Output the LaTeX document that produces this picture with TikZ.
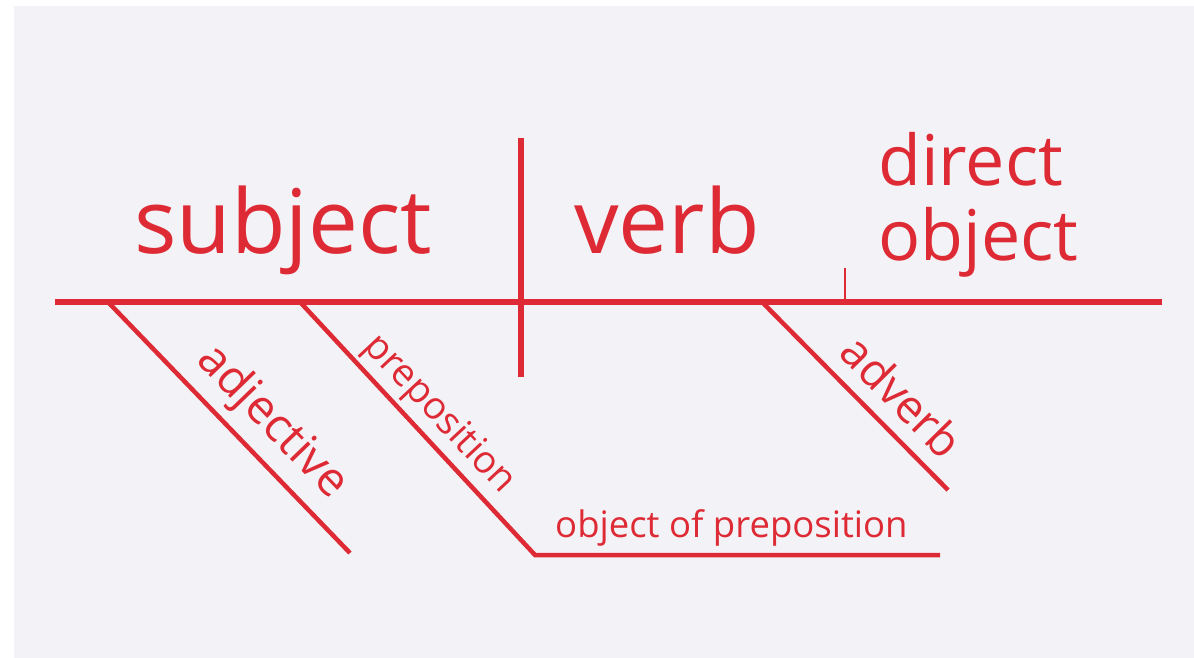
\documentclass[tikz,border=0pt]{standalone}
\usepackage{fontspec}
\setmainfont{Open Sans}
\definecolor{ink}{RGB}{222,42,52}
\definecolor{paper}{RGB}{243,243,247}
\tikzset{
  baseline rule/.style={draw=ink, line width=6.5pt},
  divider/.style={draw=ink, line width=5.5pt},
  modifier/.style={draw=ink, line width=4.5pt},
  tickmark/.style={draw=ink, line width=2.6pt},
  word/.style={text=ink, inner sep=0pt, anchor=base west},
  bigword/.style={word, font=\fontsize{89}{90}\selectfont},
  midword/.style={word, font=\fontsize{70}{72}\selectfont},
  slantword/.style={text=ink, inner sep=0pt, anchor=base}
}
\begin{document}
\begin{tikzpicture}[x=1pt,y=-1pt]
  % canvas
  \fill[white] (0,0) rectangle (1194,658);
  \fill[paper] (14,6) rectangle (1194,658);
  \useasboundingbox (0,0) rectangle (1194,658);

  % main line and its junctions
  \coordinate (mainL) at (55,302);
  \coordinate (mainR) at (1162,302);
  \coordinate (divT) at (521,138);
  \coordinate (divB) at (521,377);
  \coordinate (tickT) at (845,268);
  \coordinate (tickB) at (845,302);

  % modifier lines
  \coordinate (adjT) at (108,302);
  \coordinate (adjB) at (350,553);
  \coordinate (prepT) at (300,302);
  \coordinate (prepB) at (535,555);
  \coordinate (objR) at (940,555);
  \coordinate (advT) at (762,302);
  \coordinate (advB) at (948,490);

  \path[baseline rule] (mainL) -- (mainR);
  \path[divider] (divT) -- (divB);
  \path[tickmark] (tickT) -- (tickB);
  \path[modifier] (adjT) -- (adjB);
  \path[modifier, line join=miter] (prepT) -- (prepB) -- (objR);
  \path[modifier] (advT) -- (advB);

  % words on the main line
  \node[bigword] (subj) at (134,253) {subject};
  \node[bigword] (verb) at (574,253) {verb};
  \node[midword] (dir) at (878,185) {direct};
  \node[midword] (dobj) at (878,260) {object};

  % words on the slanted lines
  \node[slantword, rotate=-46.0, font=\fontsize{47}{49}\selectfont] (adj) at (263,431) {adjective};
  \node[slantword, rotate=-46.9, font=\fontsize{38}{40}\selectfont] (prep) at (432,421) {preposition};
  \node[slantword, rotate=-45.3, font=\fontsize{46}{48}\selectfont] (adv) at (890,408) {adverb};

  % object of the preposition
  \node[word, font=\fontsize{36.5}{38}\selectfont] (pobj) at (555,537) {object of preposition};
\end{tikzpicture}
\end{document}
